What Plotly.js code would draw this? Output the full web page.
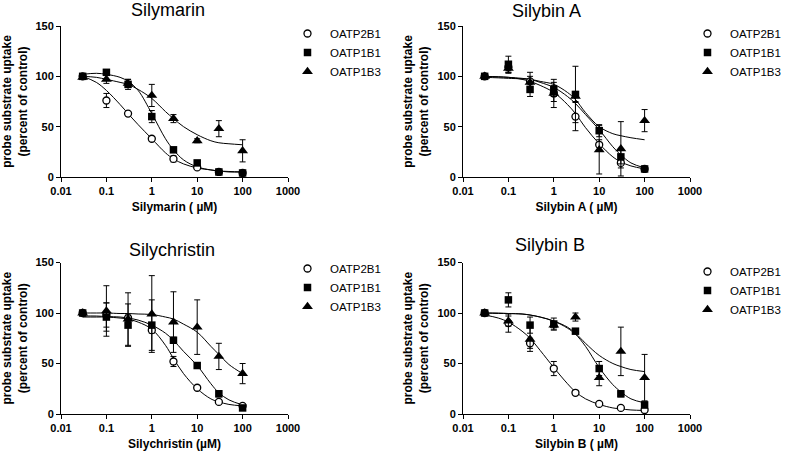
<!DOCTYPE html>
<html>
<head>
<meta charset="utf-8">
<script src="https://cdn.plot.ly/plotly-3.0.1.min.js"></script>
<style>html,body{margin:0;padding:0;background:#fff}#chart{width:788px;height:453px}</style>
</head>
<body>
<div id="chart"></div>
<script>
// ---------- data ----------
const conc = [0.03, 0.1, 0.3, 1, 3, 10, 30, 100];
const fitConc = [0.03, 0.06, 0.1, 0.2, 0.3, 0.5, 1, 2, 3, 5, 10, 20, 30, 50, 100];
const transporters = ['OATP2B1', 'OATP1B1', 'OATP1B3'];
const compounds = ['Silymarin', 'Silybin A', 'Silychristin', 'Silybin B'];
const xTitles = ['Silymarin ( \u00b5M)', 'Silybin A ( \u00b5M)', 'Silychristin (\u00b5M)', 'Silybin B ( \u00b5M)'];
const xTickVals = [0.01, 0.1, 1, 10, 100, 1000];
const xTickText = ['0.01', '0.1', '1', '10', '100', '1000'];
const yTickVals = [0, 50, 100, 150];
const yTitle = 'probe substrate uptake<br>(percent of control)';

// Silymarin
const silymarin2B1 = [100, 76, 63, 38, 18, 9.5, 5, 4];
const silymarin2B1Err = [0, 7, 2, 2, 3, 2, 1, 1];
const silymarin1B1 = [100, 104, 92, 60, 27, 14, 5, 4];
const silymarin1B1Err = [0, 2, 5, 6, 2, 2, 1, 1];
const silymarin1B3 = [99, 97, 93, 81, 58, 36, 48, 26];
const silymarin1B3Err = [0, 4, 4, 11, 4, 2, 8, 11];
const silymarin2B1Fit = [100, 94, 86, 72, 63, 52, 38, 24, 18, 13, 9, 7, 6, 5.5, 5];
const silymarin1B1Fit = [102, 103, 102, 99, 95, 86, 63, 38, 27, 17, 10, 7, 6, 5, 5];
const silymarin1B3Fit = [100, 99, 97, 94, 92, 87, 78, 65, 58, 50, 42, 36, 34, 33, 32];

// Silybin A
const silybinA2B1 = [100, 109, 95, 83, 60, 32, 14, 8];
const silybinA2B1Err = [0, 5, 5, 8, 14, 5, 5, 1];
const silybinA1B1 = [100, 112, 87, 87, 82, 46, 20, 8];
const silybinA1B1Err = [0, 8, 7, 7, 28, 6, 7, 1];
const silybinA1B3 = [100, 108, 94, 83, 80, 27, 28, 56];
const silybinA1B3Err = [0, 5, 10, 14, 5, 24, 27, 11];
const silybinA2B1Fit = [100, 99.5, 99, 97, 95, 91, 84, 72, 63, 49, 33, 20, 15, 11, 8];
const silybinA1B1Fit = [100, 99.5, 99, 98, 97, 94, 89, 80, 73, 62, 47, 30, 22, 14, 9];
const silybinA1B3Fit = [99, 98.5, 98, 97.5, 97, 95, 92, 84, 77, 64, 50, 43, 41, 39, 37];

// Silychristin
const silychristin2B1 = [100, 98, 95, 83, 52, 26, 12, 8];
const silychristin2B1Err = [0, 12, 3, 3, 5, 1, 1, 1];
const silychristin1B1 = [100, 96, 88, 88, 73, 48, 20, 6];
const silychristin1B1Err = [0, 14, 21, 25, 3, 2, 3, 2];
const silychristin1B3 = [100, 102, 94, 99, 91, 86, 57, 40];
const silychristin1B3Err = [0, 25, 26, 38, 30, 27, 13, 10];
const silychristin2B1Fit = [96, 96, 96, 95, 94, 91, 84, 68, 55, 40, 25, 15, 12, 9.5, 8];
const silychristin1B1Fit = [97, 97, 96.5, 96, 95, 93, 88, 80, 73, 62, 48, 30, 21, 14, 9];
const silychristin1B3Fit = [100, 100, 100, 99.5, 99.5, 99, 98.5, 96, 94, 89, 81, 67, 59, 49, 40];

// Silybin B
const silybinB2B1 = [100, 90, 70, 45, 21, 10, 6, 4];
const silybinB2B1Err = [0, 9, 5, 7, 2, 1, 1, 1];
const silybinB1B1 = [100, 113, 88, 89, 82, 45, 20, 9];
const silybinB1B1Err = [0, 7, 8, 6, 2, 7, 3, 3];
const silybinB1B3 = [100, 92, 74, 88, 96, 36, 62, 36];
const silybinB1B3Err = [0, 5, 12, 4, 4, 8, 24, 23];
const silybinB2B1Fit = [98, 95, 91, 82, 75, 63, 46, 30, 22, 15, 9.5, 6, 5, 4, 3.5];
const silybinB1B1Fit = [100, 100, 99.5, 99, 98, 96, 92, 85, 79, 67, 46, 29, 22, 15, 11];
const silybinB1B3Fit = [100, 99.5, 99.5, 99, 98, 96, 92, 86, 80, 70, 58, 50, 47, 44, 42];

// ---------- build ----------
const means = [
  [silymarin2B1, silymarin1B1, silymarin1B3],
  [silybinA2B1, silybinA1B1, silybinA1B3],
  [silychristin2B1, silychristin1B1, silychristin1B3],
  [silybinB2B1, silybinB1B1, silybinB1B3]
];
const errs = [
  [silymarin2B1Err, silymarin1B1Err, silymarin1B3Err],
  [silybinA2B1Err, silybinA1B1Err, silybinA1B3Err],
  [silychristin2B1Err, silychristin1B1Err, silychristin1B3Err],
  [silybinB2B1Err, silybinB1B1Err, silybinB1B3Err]
];
const fits = [
  [silymarin2B1Fit, silymarin1B1Fit, silymarin1B3Fit],
  [silybinA2B1Fit, silybinA1B1Fit, silybinA1B3Fit],
  [silychristin2B1Fit, silychristin1B1Fit, silychristin1B3Fit],
  [silybinB2B1Fit, silybinB1B1Fit, silybinB1B3Fit]
];

const W = 788, H = 453;
const xDom = [[61/W, 288/W], [463/W, 690/W], [61/W, 288/W], [463/W, 690/W]];
const yDom = [[(H-177)/H, (H-26)/H], [(H-177)/H, (H-26)/H], [(H-414)/H, (H-262.5)/H], [(H-414)/H, (H-262.5)/H]];
const titlePos = [[168, 10], [546, 11], [172, 250], [550, 245]];
const legendPos = [[285, 19], [685, 19], [285, 254], [685, 257]];

const markerStyles = [
  {symbol: 'circle', size: 7, color: 'white', line: {color: 'black', width: 1.3}},
  {symbol: 'square', size: 7.5, color: 'black', line: {color: 'black', width: 0}},
  {symbol: 'triangle-up', size: 9.5, color: 'black', line: {color: 'black', width: 0}}
];

const FONT = 'Liberation Sans, Arial, sans-serif';
const traces = [];
const layout = {
  width: W, height: H,
  margin: {l: 0, r: 0, t: 0, b: 0, autoexpand: false},
  paper_bgcolor: 'white', plot_bgcolor: 'white',
  font: {family: FONT, color: 'black'},
  showlegend: true,
  annotations: []
};

for (let p = 0; p < 4; p++) {
  const sfx = p === 0 ? '' : String(p + 1);
  const xa = 'x' + sfx, ya = 'y' + sfx;
  const legName = 'legend' + sfx;
  for (let s = 0; s < 3; s++) {
    traces.push({
      x: fitConc, y: fits[p][s], xaxis: xa, yaxis: ya,
      mode: 'lines', line: {color: 'black', width: 1, shape: 'spline', smoothing: 1},
      showlegend: false, hoverinfo: 'skip'
    });
  }
  for (let s = 0; s < 3; s++) {
    traces.push({
      x: conc, y: means[p][s], xaxis: xa, yaxis: ya,
      mode: 'markers', name: transporters[s], legend: legName,
      marker: markerStyles[s],
      error_y: {type: 'data', array: errs[p][s], visible: true, color: 'black', thickness: 1, width: 3},
      cliponaxis: false
    });
  }
  layout['xaxis' + sfx] = {
    type: 'log', range: [-2, 3], domain: xDom[p], anchor: ya,
    tickmode: 'array', tickvals: xTickVals, ticktext: xTickText,
    ticks: 'outside', ticklen: 4, tickwidth: 1, tickcolor: 'black',
    showline: true, linecolor: 'black', linewidth: 1,
    showgrid: false, zeroline: false,
    tickfont: {family: FONT, size: 11, weight: 'bold', color: 'black'},
    title: {text: xTitles[p], font: {family: FONT, size: 12, weight: 'bold', color: 'black'}, standoff: 6}
  };
  layout['yaxis' + sfx] = {
    range: [0, 150], domain: yDom[p], anchor: xa,
    tickmode: 'array', tickvals: yTickVals,
    ticks: 'outside', ticklen: 4, tickwidth: 1, tickcolor: 'black',
    showline: true, linecolor: 'black', linewidth: 1,
    showgrid: false, zeroline: false,
    tickfont: {family: FONT, size: 11, weight: 'bold', color: 'black'},
    title: {text: yTitle, font: {family: FONT, size: 12, weight: 'bold', color: 'black'}, standoff: 6}
  };
  layout[legName] = {
    x: legendPos[p][0] / W, y: (H - legendPos[p][1]) / H,
    xanchor: 'left', yanchor: 'top',
    bgcolor: 'rgba(0,0,0,0)', borderwidth: 0,
    font: {family: FONT, size: 11.5, color: 'black'},
    tracegroupgap: 0, itemsizing: 'trace', itemwidth: 35
  };
  layout.annotations.push({
    text: compounds[p], xref: 'paper', yref: 'paper',
    x: titlePos[p][0] / W, y: (H - titlePos[p][1]) / H,
    xanchor: 'center', yanchor: 'middle', showarrow: false,
    font: {family: FONT, size: 18, color: 'black'}
  });
}

Plotly.newPlot('chart', traces, layout, {staticPlot: true, displayModeBar: false});
</script>
</body>
</html>
